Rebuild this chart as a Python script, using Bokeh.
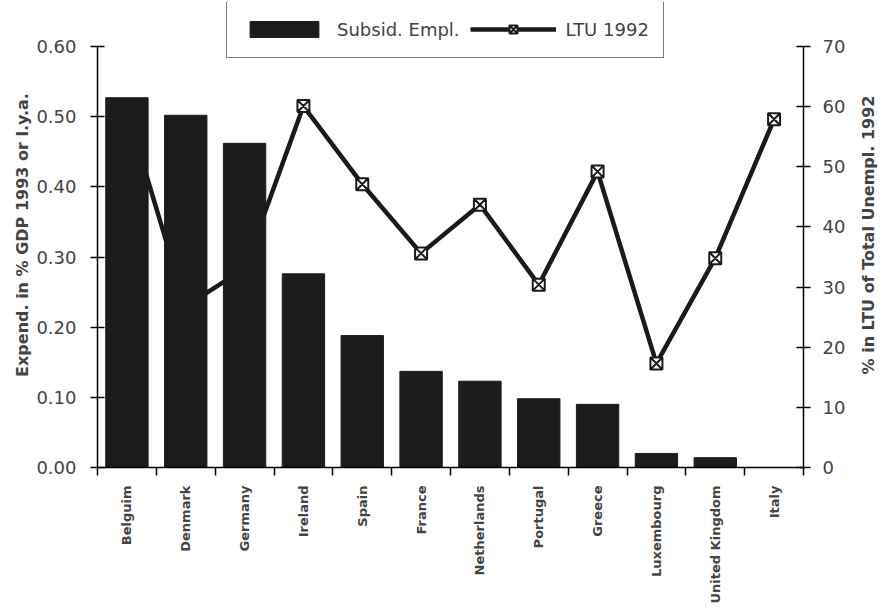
import math
from bokeh.plotting import figure
from bokeh.layouts import row
from bokeh.models import (Range1d, LinearAxis, FixedTicker, NumeralTickFormatter,
                          Legend, LegendItem, ColumnDataSource)
from bokeh.embed import file_html
from bokeh.resources import INLINE

countries = ["Belgium", "Denmark", "Germany", "Ireland", "Spain", "France",
             "Netherlands", "Portugal", "Greece", "Luxembourg", "United Kingdom", "Italy"]
label_texts = ["Belguim", "Denmark", "Germany", "Ireland", "Spain", "France",
               "Netherlands", "Portugal", "Greece", "Luxembourg", "United Kingdom", "Italy"]
subsid_empl = [0.527, 0.502, 0.462, 0.276, 0.188, 0.137, 0.123, 0.098, 0.090, 0.020, 0.014, 0.0]
ltu_1992 = [59.4, 26.8, 33.1, 60.1, 47.1, 35.6, 43.7, 30.4, 49.2, 17.3, 34.8, 57.9]
left_ticks = [0.0, 0.1, 0.2, 0.3, 0.4, 0.5, 0.6]
right_ticks = [0, 10, 20, 30, 40, 50, 60, 70]
left_max = 0.6
right_max = 70
left_title = "Expend. in % GDP 1993 or l.y.a."
right_title = "% in LTU of Total Unempl. 1992"

FONT = "DejaVu Sans"
# head room above the axes' end, for the legend box (frame 465 px, axes 421 px)
head = 465 / 421

xc = [i + 0.5 for i in range(len(countries))]
src = ColumnDataSource(dict(x=xc, bar=subsid_empl, ltu=ltu_1992))

p = figure(width=850, height=615, output_backend="svg", toolbar_location=None,
           x_range=Range1d(0, len(countries)), y_range=Range1d(0, left_max * head),
           min_border_left=97, min_border_right=47, min_border_top=2, min_border_bottom=148)
p.extra_y_ranges = {"ltu": Range1d(0, right_max * head)}
p.xaxis.visible = False
p.yaxis.visible = False
p.xgrid.visible = False
p.ygrid.visible = False
p.outline_line_color = None
p.background_fill_color = "white"
p.border_fill_color = "white"

# bottom axis: labels at category centres, tick marks at boundaries
xax = LinearAxis(ticker=FixedTicker(ticks=xc, minor_ticks=list(range(len(countries) + 1))))
xax.major_label_overrides = {x: t for x, t in zip(xc, label_texts)}
xax.major_tick_line_color = None
xax.minor_tick_in = 0
xax.minor_tick_out = 8
xax.minor_tick_line_color = "black"
xax.minor_tick_line_width = 1.5
xax.axis_line_width = 1.5
xax.major_label_orientation = math.pi / 2
xax.major_label_text_font = FONT
xax.major_label_text_font_style = "bold"
xax.major_label_text_font_size = "13px"
xax.major_label_standoff = 10
p.add_layout(xax, "below")

lax = LinearAxis(ticker=FixedTicker(ticks=left_ticks, minor_ticks=[]),
                 formatter=NumeralTickFormatter(format="0.00"), bounds=(0, left_max),
                 axis_label=left_title)
rax = LinearAxis(y_range_name="ltu", ticker=FixedTicker(ticks=right_ticks, minor_ticks=[]),
                 bounds=(0, right_max))
for ax in (lax, rax):
    ax.major_tick_in = 7
    ax.major_tick_out = 7
    ax.major_tick_line_width = 1.5
    ax.axis_line_width = 1.5
    ax.major_label_text_font = FONT
    ax.major_label_text_font_size = "18px"
    ax.axis_label_text_font = FONT
    ax.axis_label_text_font_style = "bold"
    ax.axis_label_text_font_size = "16px"
lax.major_label_standoff = 14
lax.axis_label_standoff = 1
rax.major_label_standoff = 12
p.add_layout(lax, "left")
p.add_layout(rax, "right")

ln = p.line("x", "ltu", source=src, y_range_name="ltu", line_color="#1a1a1a", line_width=4.5)
mk = p.scatter("x", "ltu", source=src, y_range_name="ltu", marker="square_x", size=12,
               fill_color="white", line_color="#1a1a1a", line_width=2)
bars = p.vbar(x="x", top="bar", width=0.72, source=src, fill_color="#1c1c1c", line_color="#1c1c1c")

legend = Legend(items=[LegendItem(label="Subsid. Empl.", renderers=[bars]),
                       LegendItem(label="LTU 1992", renderers=[ln, mk])],
                orientation="horizontal", location=(129, 409))
legend.glyph_width = 86
legend.glyph_height = 20
legend.label_height = 28
legend.label_text_font = FONT
legend.label_text_font_size = "18px"
legend.label_standoff = 10
legend.spacing = 10
legend.padding = 14
legend.margin = 0
legend.border_line_color = "black"
legend.border_line_width = 1.5
legend.background_fill_alpha = 1
p.add_layout(legend, "center")

# narrow companion panel carrying the right-hand axis title (reads bottom to top)
p2 = figure(width=34, height=615, output_backend="svg", toolbar_location=None,
            x_range=Range1d(0, 1), y_range=Range1d(0, 1),
            min_border_left=27, min_border_right=0, min_border_top=2, min_border_bottom=148)
p2.xaxis.visible = False
p2.yaxis.visible = False
p2.xgrid.visible = False
p2.ygrid.visible = False
p2.outline_line_color = None
p2.background_fill_color = "white"
p2.border_fill_color = "white"
tax = LinearAxis(ticker=FixedTicker(ticks=[], minor_ticks=[]), axis_label=right_title)
tax.axis_line_color = None
tax.major_tick_line_color = None
tax.minor_tick_line_color = None
tax.major_tick_in = 0
tax.major_tick_out = 0
tax.axis_label_standoff = 0
tax.axis_label_text_font = FONT
tax.axis_label_text_font_style = "bold"
tax.axis_label_text_font_size = "16px"
p2.add_layout(tax, "left")

layout = row(p, p2, spacing=0)
open("out.html", "w").write(file_html(layout, INLINE))
